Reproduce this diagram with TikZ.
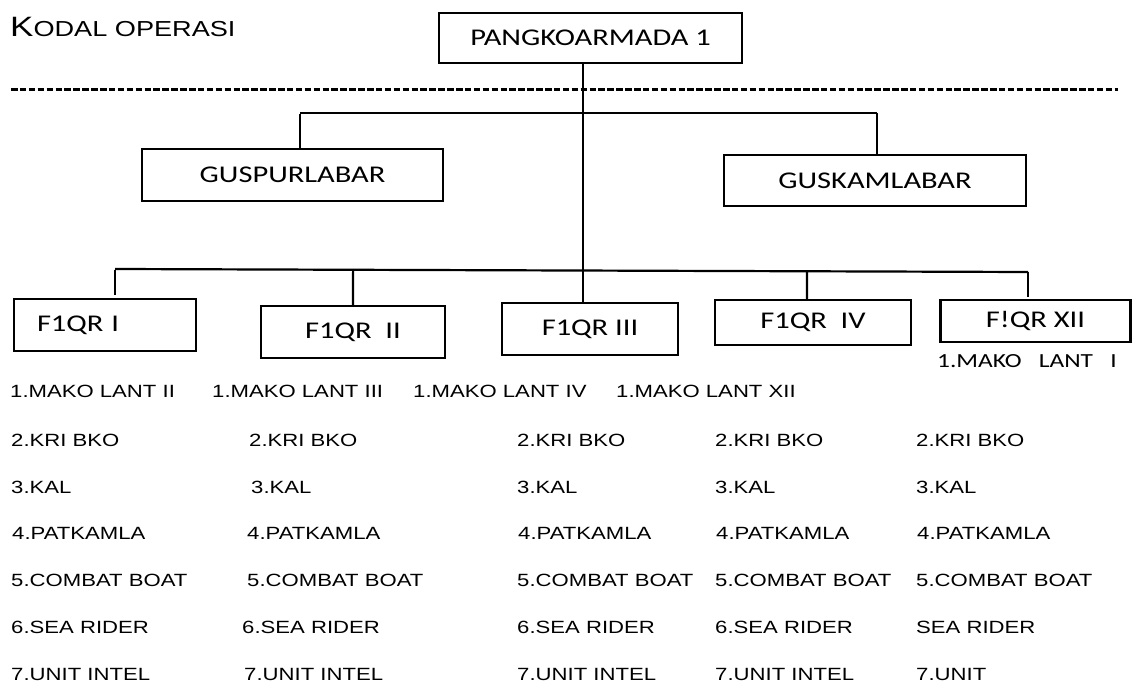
\documentclass[tikz,border=0pt]{standalone}
\usepackage{fontspec}
\setmainfont{Liberation Sans}
\newfontfamily\listfont[FakeStretch=1.25]{Liberation Sans}
\newfontfamily\boxfont[FakeStretch=1.27]{Carlito}
\usetikzlibrary{calc}
\begin{document}
\begin{tikzpicture}[x=1pt,y=-1pt,
  box/.style={draw, line width=2.2pt, inner sep=0pt, font=\boxfont\fontsize{24}{28}\selectfont},
  conn/.style={line width=2.2pt},
  dashline/.style={line width=3pt, dash pattern=on 6.5pt off 2.4pt},
  lst/.style={anchor=base west, inner sep=0pt, font=\listfont\fontsize{17.7}{20}\selectfont},
  lstc/.style={anchor=base west, inner sep=0pt, font=\boxfont\fontsize{20}{24}\selectfont}]
\useasboundingbox (0,0) rectangle (1132,684);

% title
\node[anchor=base west, inner sep=0pt, font=\listfont] (title) at (10,37)
  {\fontsize{28}{30}\selectfont K\fontsize{21.7}{24}\selectfont ODAL OPERASI};

% dashed separator
\coordinate (dL) at (11,90);
\coordinate (dR) at (1118,90);
\draw[dashline] (dL) -- (dR);

% boxes
\node[box, minimum width=303pt, minimum height=50pt] (P) at (590.5,38) {PANGKOARMADA 1};
\node[box, minimum width=301pt, minimum height=52pt] (GP) at (292.5,175) {GUSPURLABAR};
\node[box, minimum width=302pt, minimum height=51pt] (GK) at (875,180.5) {GUSKAMLABAR};
\node[box, minimum width=182pt, minimum height=52pt, text width=136pt, align=left, inner xsep=23pt] (F1) at (105,325) {F1QR I};
\node[box, minimum width=184pt, minimum height=52pt] (F2) at (353,332) {F1QR\ \ II};
\node[box, minimum width=176pt, minimum height=52pt] (F3) at (590,329) {F1QR III};
\node[box, minimum width=196pt, minimum height=45pt] (F4) at (813,322.5) {F1QR\ \ IV};
\node[box, minimum width=190pt, minimum height=42pt] (F5) at (1035.5,321) {F!QR XII};

% trunk
\coordinate (tx) at (583,0);
\draw[conn] (P.south -| tx) -- (F3.north -| tx);

% GUS bus
\coordinate (gbL) at (300,113);
\coordinate (gbR) at (877,113);
\draw[conn] (gbL) -- (gbR);
\draw[conn] ([yshift=-1pt]gbL) -- (GP.north -| gbL);
\draw[conn] (gbR) -- (GK.north -| gbR);

% F bus
\coordinate (fbL) at (115,269);
\coordinate (fbR) at (1028,272);
\coordinate (f1e) at (115,295);
\coordinate (f5e) at (1028,297);
\coordinate (f4x) at (807,0);
\draw[conn] (fbL) -- (fbR);
\draw[conn] ([yshift=-1pt]fbL) -- (f1e);
\draw[conn] ($(fbL)!(F2.north)!(fbR)$) -- (F2.north);
\draw[conn] ($(fbL)!(F4.north -| f4x)!(fbR)$) -- (F4.north -| f4x);
\draw[conn] (fbR) -- (f5e);

% list under F!QR XII
\node[lstc] (m5) at (937,367) {1.MAKO\ \ \ LANT\ \ \ I};

% row 1
\node[lst] (m1) at (10,397) {1.MAKO LANT II};
\node[lst] (m2) at (212,397) {1.MAKO LANT III};
\node[lst] (m3) at (413,397) {1.MAKO LANT IV};
\node[lst] (m4) at (616,397) {1.MAKO LANT XII};

% row 2
\node[lst] (k1) at (11,446) {2.KRI BKO};
\node[lst] (k2) at (249,446) {2.KRI BKO};
\node[lst] (k3) at (517,446) {2.KRI BKO};
\node[lst] (k4) at (715,446) {2.KRI BKO};
\node[lst] (k5) at (916,446) {2.KRI BKO};

% row 3
\node[lst] (a1) at (11,493) {3.KAL};
\node[lst] (a2) at (251,493) {3.KAL};
\node[lst] (a3) at (517,493) {3.KAL};
\node[lst] (a4) at (715,493) {3.KAL};
\node[lst] (a5) at (916,493) {3.KAL};

% row 4
\node[lst] (p1) at (12,539) {4.PATKAMLA};
\node[lst] (p2) at (247,539) {4.PATKAMLA};
\node[lst] (p3) at (518,539) {4.PATKAMLA};
\node[lst] (p4) at (716,539) {4.PATKAMLA};
\node[lst] (p5) at (917,539) {4.PATKAMLA};

% row 5
\node[lst] (c1) at (11,586) {5.COMBAT BOAT};
\node[lst] (c2) at (247,586) {5.COMBAT BOAT};
\node[lst] (c3) at (517,586) {5.COMBAT BOAT};
\node[lst] (c4) at (715,586) {5.COMBAT BOAT};
\node[lst] (c5) at (916,586) {5.COMBAT BOAT};

% row 6
\node[lst] (s1) at (11,633) {6.SEA RIDER};
\node[lst] (s2) at (242,633) {6.SEA RIDER};
\node[lst] (s3) at (517,633) {6.SEA RIDER};
\node[lst] (s4) at (715,633) {6.SEA RIDER};
\node[lst] (s5) at (916,633) {SEA RIDER};

% row 7
\node[lst] (u1) at (11,680) {7.UNIT INTEL};
\node[lst] (u2) at (244,680) {7.UNIT INTEL};
\node[lst] (u3) at (517,680) {7.UNIT INTEL};
\node[lst] (u4) at (715,680) {7.UNIT INTEL};
\node[lst] (u5) at (916,680) {7.UNIT};
\end{tikzpicture}
\end{document}
